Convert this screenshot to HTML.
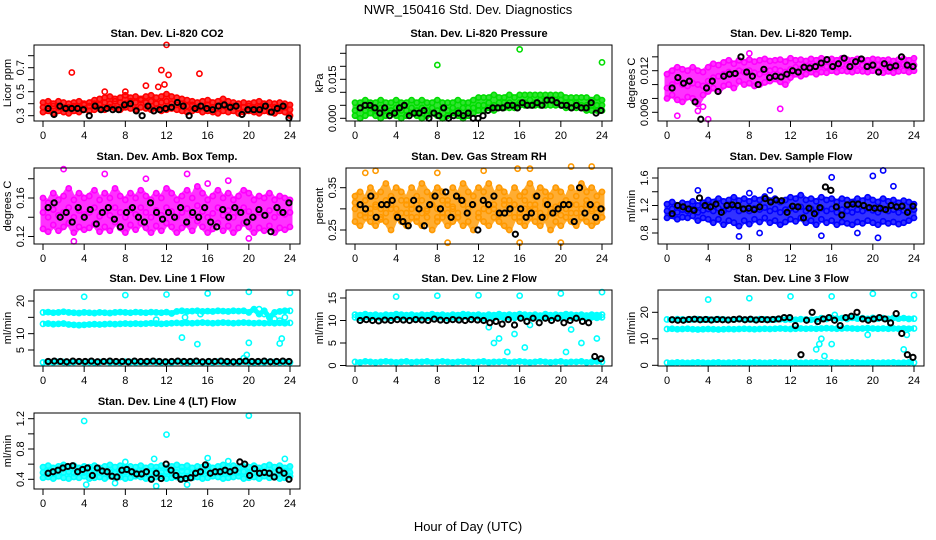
<!DOCTYPE html>
<html><head><meta charset="utf-8"><style>
html,body{margin:0;padding:0;background:#fff;}
svg{display:block;font-family:"Liberation Sans",sans-serif;}
</style></head><body>
<svg id="chart" width="936" height="540" viewBox="0 0 936 540">
<text x="468" y="14" text-anchor="middle" font-size="13">NWR_150416 Std. Dev. Diagnostics</text>
<text x="468" y="531" text-anchor="middle" font-size="13">Hour of Day (UTC)</text>
</svg>
<script>
// ---------- DATA ----------
const co2Upper=[0.41,0.42,0.40,0.42,0.41,0.40,0.41,0.42,0.40,0.41,0.43,0.44,0.45,0.46,0.44,0.45,0.47,0.45,0.46,0.44,0.46,0.47,0.45,0.46,0.48,0.46,0.45,0.44,0.43,0.42,0.41,0.42,0.43,0.41,0.42,0.44,0.42,0.41,0.40,0.41,0.40,0.41,0.42,0.40,0.41,0.40,0.41,0.40,0.39];
const co2Mid=[0.37,0.36,0.38,0.37,0.36,0.37,0.38,0.37,0.39,0.38,0.40,0.39,0.41,0.40,0.42,0.41,0.40,0.42,0.41,0.43,0.41,0.42,0.40,0.41,0.42,0.40,0.39,0.40,0.38,0.39,0.37,0.38,0.39,0.37,0.38,0.39,0.37,0.38,0.36,0.37,0.38,0.36,0.37,0.38,0.36,0.37,0.36,0.37,0.35];
const co2Lower=[0.33,0.34,0.32,0.34,0.33,0.32,0.34,0.33,0.35,0.34,0.35,0.36,0.35,0.37,0.36,0.35,0.37,0.36,0.35,0.37,0.36,0.35,0.36,0.34,0.35,0.36,0.35,0.34,0.33,0.34,0.35,0.33,0.34,0.33,0.32,0.34,0.33,0.34,0.32,0.33,0.34,0.33,0.32,0.34,0.33,0.32,0.34,0.33,0.30];
const co2Black=[0.36,0.31,0.38,0.36,0.36,0.36,0.35,0.30,0.38,0.35,0.36,0.35,0.35,0.39,0.40,0.34,0.30,0.38,0.34,0.35,0.36,0.37,0.41,0.38,0.30,0.36,0.38,0.36,0.35,0.38,0.39,0.37,0.38,0.31,0.35,0.35,0.35,0.38,0.33,0.36,0.38,0.28];
const co2Outliers=[[2.8,0.66],[10,0.55],[11.2,0.54],[11.5,0.68],[11.8,0.56],[12,0.89],[12.2,0.64],[15.2,0.65],[8,0.5],[6,0.5]];

const presUpper=[0.006,0.006,0.007,0.006,0.006,0.007,0.006,0.006,0.007,0.006,0.006,0.007,0.006,0.007,0.006,0.006,0.007,0.006,0.006,0.006,0.007,0.006,0.006,0.007,0.008,0.008,0.008,0.009,0.008,0.008,0.009,0.008,0.009,0.009,0.009,0.009,0.009,0.009,0.009,0.009,0.009,0.008,0.008,0.008,0.008,0.008,0.007,0.008,0.007];
const presMid=[0.003,0.004,0.003,0.004,0.003,0.004,0.003,0.003,0.004,0.003,0.003,0.004,0.003,0.004,0.003,0.004,0.003,0.004,0.003,0.004,0.003,0.004,0.004,0.004,0.005,0.005,0.006,0.005,0.006,0.006,0.006,0.005,0.006,0.006,0.007,0.006,0.007,0.007,0.007,0.007,0.007,0.006,0.006,0.006,0.005,0.005,0.005,0.005,0.005];
const presLower=[0.001,0.000,0.001,0.002,0.001,0.000,0.001,0.002,0.001,0.000,0.001,0.002,0.001,0.000,0.001,0.002,0.001,0.000,0.001,0.002,0.001,0.000,0.001,0.002,0.003,0.003,0.004,0.003,0.004,0.004,0.004,0.004,0.005,0.005,0.005,0.005,0.005,0.005,0.005,0.005,0.005,0.004,0.004,0.004,0.004,0.003,0.003,0.003,0.003];
const presBlack=[0.004,0.005,0.005,0.004,0.002,0.004,0.001,0.002,0.004,0.005,0.001,0.002,0.002,0.003,0.000,0.002,0.001,0.004,0.000,0.001,0.002,0.001,0.002,0.000,0.000,0.001,0.003,0.004,0.004,0.004,0.005,0.005,0.004,0.006,0.005,0.005,0.006,0.005,0.007,0.007,0.006,0.005,0.005,0.004,0.005,0.004,0.004,0.006,0.002,0.003];
const presOutliers=[[8,0.0205],[16,0.0265],[24,0.0215]];

const tempUpper=[0.0115,0.0120,0.0125,0.0122,0.0120,0.0125,0.0120,0.0118,0.0125,0.0130,0.0128,0.0132,0.0135,0.0130,0.0135,0.0132,0.0136,0.0133,0.0135,0.0137,0.0134,0.0135,0.0136,0.0133,0.0138,0.0135,0.0136,0.0134,0.0137,0.0135,0.0138,0.0136,0.0137,0.0135,0.0138,0.0136,0.0135,0.0137,0.0136,0.0135,0.0137,0.0136,0.0135,0.0136,0.0134,0.0136,0.0137,0.0135,0.0138];
const tempMid=[0.0095,0.0100,0.0105,0.0100,0.0098,0.0102,0.0100,0.0098,0.0105,0.0110,0.0112,0.0115,0.0118,0.0115,0.0120,0.0118,0.0120,0.0117,0.0115,0.0118,0.0120,0.0122,0.0120,0.0118,0.0122,0.0125,0.0123,0.0125,0.0127,0.0125,0.0128,0.0126,0.0128,0.0127,0.0129,0.0128,0.0127,0.0129,0.0128,0.0127,0.0129,0.0128,0.0127,0.0128,0.0126,0.0128,0.0129,0.0127,0.0128];
const tempLower=[0.0080,0.0085,0.0078,0.0075,0.0082,0.0080,0.0072,0.0085,0.0090,0.0095,0.0090,0.0098,0.0100,0.0095,0.0105,0.0100,0.0102,0.0098,0.0100,0.0103,0.0105,0.0108,0.0104,0.0100,0.0110,0.0115,0.0112,0.0115,0.0118,0.0115,0.0118,0.0117,0.0120,0.0118,0.0120,0.0119,0.0118,0.0120,0.0119,0.0118,0.0120,0.0119,0.0117,0.0119,0.0117,0.0119,0.0120,0.0118,0.0120];
const tempBlack=[0.0095,0.0110,0.0102,0.0105,0.0075,0.0050,0.0095,0.0105,0.0090,0.0112,0.0115,0.0116,0.0140,0.0118,0.0112,0.0100,0.0122,0.0110,0.0112,0.0111,0.0115,0.0120,0.0118,0.0125,0.0124,0.0126,0.0131,0.0136,0.0126,0.0130,0.0138,0.0126,0.0133,0.0137,0.0126,0.0128,0.0118,0.0130,0.0125,0.0127,0.0140,0.0128,0.0126];
const tempOutliers=[[1,0.0055],[3.5,0.0068],[4,0.0050],[8,0.0145],[11,0.0065],[3,0.0062]];

const ambUpper=[0.160,0.155,0.165,0.158,0.162,0.170,0.158,0.165,0.160,0.162,0.168,0.158,0.165,0.160,0.170,0.162,0.158,0.165,0.160,0.168,0.162,0.158,0.165,0.160,0.170,0.165,0.158,0.162,0.168,0.160,0.172,0.165,0.158,0.162,0.168,0.160,0.165,0.158,0.162,0.168,0.165,0.158,0.162,0.160,0.165,0.158,0.162,0.160,0.158];
const ambMid=[0.145,0.140,0.148,0.142,0.145,0.150,0.140,0.147,0.143,0.145,0.150,0.141,0.146,0.142,0.150,0.145,0.140,0.148,0.143,0.150,0.145,0.140,0.147,0.142,0.150,0.146,0.140,0.145,0.149,0.142,0.152,0.146,0.140,0.144,0.150,0.142,0.147,0.140,0.145,0.150,0.146,0.140,0.145,0.142,0.147,0.140,0.145,0.143,0.145];
const ambLower=[0.128,0.125,0.132,0.126,0.130,0.134,0.124,0.130,0.127,0.129,0.133,0.125,0.130,0.126,0.135,0.129,0.124,0.132,0.127,0.134,0.129,0.124,0.131,0.126,0.134,0.130,0.124,0.129,0.133,0.126,0.136,0.130,0.124,0.128,0.134,0.126,0.131,0.124,0.129,0.134,0.130,0.124,0.129,0.126,0.131,0.124,0.129,0.127,0.130];
const ambBlack=[0.150,0.155,0.140,0.145,0.135,0.150,0.140,0.148,0.133,0.145,0.150,0.138,0.130,0.145,0.150,0.140,0.135,0.155,0.145,0.138,0.145,0.140,0.150,0.135,0.145,0.140,0.150,0.135,0.130,0.148,0.140,0.150,0.145,0.135,0.140,0.148,0.142,0.125,0.150,0.145,0.155];
const ambOutliers=[[2,0.19],[6,0.185],[10,0.18],[14,0.185],[16,0.175],[3,0.115],[20,0.118],[18,0.178]];

const rhA=[0.33,0.34,0.32,0.35,0.33,0.34,0.36,0.33,0.35,0.34,0.32,0.35,0.33,0.36,0.34,0.33,0.35,0.34,0.32,0.35,0.33,0.36,0.34,0.33,0.35,0.34,0.36,0.33,0.35,0.34,0.32,0.35,0.33,0.34,0.36,0.33,0.35,0.34,0.33,0.35,0.34,0.32,0.35,0.33,0.36,0.34,0.35,0.33,0.34];
const rhB=[0.30,0.31,0.29,0.30,0.31,0.30,0.29,0.31,0.30,0.29,0.31,0.30,0.31,0.29,0.30,0.31,0.30,0.29,0.31,0.30,0.29,0.31,0.30,0.31,0.29,0.30,0.31,0.30,0.29,0.31,0.30,0.31,0.29,0.30,0.31,0.30,0.29,0.31,0.30,0.29,0.31,0.30,0.31,0.29,0.30,0.31,0.30,0.29,0.30];
const rhC=[0.27,0.26,0.28,0.27,0.26,0.28,0.27,0.25,0.28,0.27,0.26,0.28,0.27,0.26,0.28,0.25,0.27,0.28,0.26,0.27,0.28,0.26,0.27,0.25,0.28,0.27,0.26,0.28,0.27,0.26,0.25,0.28,0.27,0.26,0.28,0.27,0.26,0.28,0.25,0.27,0.26,0.28,0.27,0.26,0.28,0.27,0.26,0.27,0.28];
const rhD=[0.315,0.285,0.32,0.29,0.305,0.275,0.32,0.30,0.285,0.32,0.29,0.31,0.28,0.32,0.295,0.31,0.28,0.32,0.29,0.305,0.28,0.32,0.29,0.31,0.28,0.32,0.295,0.31,0.285,0.32,0.29,0.31,0.28,0.32,0.295,0.31,0.28,0.32,0.29,0.305,0.285,0.32,0.29,0.31,0.28,0.32,0.295,0.31,0.28];
const rhBlack=[0.31,0.30,0.33,0.28,0.31,0.31,0.32,0.28,0.27,0.26,0.32,0.30,0.26,0.31,0.33,0.30,0.34,0.28,0.33,0.32,0.29,0.31,0.25,0.32,0.31,0.33,0.29,0.29,0.30,0.24,0.30,0.28,0.29,0.33,0.28,0.31,0.29,0.30,0.31,0.31,0.27,0.35,0.29,0.31,0.28,0.30];
const rhOutliers=[[1,0.385],[2,0.39],[8,0.385],[12.5,0.39],[15.8,0.395],[17,0.395],[21,0.40],[23,0.40],[9,0.22],[16,0.22],[20,0.22]];

const flowA=[1.22,1.25,1.20,1.24,1.22,1.26,1.20,1.24,1.28,1.25,1.30,1.26,1.28,1.32,1.27,1.30,1.26,1.30,1.28,1.33,1.27,1.30,1.25,1.28,1.32,1.30,1.35,1.28,1.30,1.26,1.32,1.28,1.30,1.25,1.30,1.28,1.25,1.30,1.27,1.32,1.28,1.25,1.30,1.26,1.28,1.24,1.27,1.25,1.22];
const flowB=[1.12,1.15,1.10,1.14,1.12,1.15,1.10,1.13,1.15,1.12,1.16,1.12,1.15,1.18,1.12,1.15,1.12,1.16,1.14,1.17,1.12,1.15,1.10,1.14,1.16,1.14,1.18,1.12,1.15,1.10,1.16,1.12,1.15,1.10,1.14,1.12,1.10,1.14,1.12,1.16,1.13,1.10,1.15,1.12,1.14,1.10,1.13,1.12,1.14];
const flowC=[1.02,1.05,1.00,1.03,1.02,1.05,0.98,1.02,1.00,0.95,1.00,0.92,0.98,0.95,0.90,0.98,0.93,1.00,0.96,1.02,0.95,0.98,0.92,0.96,1.00,0.97,1.02,0.95,0.98,0.92,1.00,0.95,0.98,0.92,0.96,0.94,0.92,0.96,0.94,0.98,0.95,0.92,0.97,0.94,0.96,0.93,0.95,0.98,1.02];
const flowBlack=[1.08,1.20,1.18,1.15,1.13,1.31,1.20,1.18,1.22,1.10,1.20,1.21,1.20,1.15,1.16,1.14,1.18,1.30,1.25,1.28,1.27,1.10,1.19,1.18,1.02,1.16,1.08,1.17,1.47,1.42,1.18,1.06,1.21,1.22,1.22,1.20,1.17,1.16,1.16,1.14,1.20,1.18,1.19,1.10,1.19];
const flowOutliers=[[16,1.61],[20,1.63],[21,1.71],[22,1.48],[3,1.42],[8,1.38],[10,1.42],[15,0.76],[20.5,0.73],[7,0.75],[9,0.8],[18.5,0.8]];

const l1A=[16.5,16.6,16.4,16.5,16.7,16.5,16.4,16.3,16.5,16.4,16.3,16.5,16.4,16.3,16.5,16.6,16.5,16.4,16.6,16.5,16.4,16.6,16.5,16.4,16.6,16.2,16.8,17.0,16.8,16.9,17.0,16.8,16.9,16.8,17.0,16.9,16.8,17.0,16.9,17.0,16.5,17.5,16.0,17.0,15.0,16.5,16.8,17.0,17.0];
const l1B=[13.0,13.1,12.9,13.0,13.1,12.8,12.7,12.6,12.7,12.8,12.9,12.8,12.9,13.0,12.9,13.0,13.1,13.0,13.1,13.0,13.1,13.2,13.1,13.0,13.1,13.2,13.3,13.2,13.3,13.2,13.3,13.4,13.3,13.2,13.3,13.4,13.3,13.2,13.3,13.4,13.3,13.2,13.3,13.2,13.3,13.2,13.3,13.2,13.3];
const l1C=[1.2,1.3,1.2,1.4,1.3,1.2,1.3,1.4,1.2,1.3,1.2,1.3,1.4,1.2,1.3,1.2,1.4,1.3,1.2,1.3,1.2,1.4,1.3,1.2,1.3,1.2,1.4,1.3,1.2,1.3,1.4,1.2,1.3,1.2,1.4,1.3,1.2,1.3,1.2,1.4,1.3,1.2,1.3,1.2,1.4,1.3,1.2,1.3,1.2];
const l1Black=[1.5,1.6,1.5,1.4,1.6,1.5,1.5,1.6,1.4,1.5,1.6,1.5,1.5,1.4,1.6,1.5,1.5,1.6,1.5,1.4,1.5,1.6,1.5,1.5,1.6,1.4,1.5,1.5,1.6,1.5,1.4,1.5,1.6,1.5,1.5,1.6,1.4,1.5,1.6,1.5];
const l1Outliers=[[4,21.3],[8,21.8],[12,22.0],[16,22.3],[20,22.8],[24,22.5],[13.5,8.8],[15,6.8],[20,7.2],[19.8,3.5],[23,7],[23.2,8.5],[19.5,2.5],[21,17.5],[21.5,16],[22,15],[22.5,14.5],[23,14],[23.5,15],[11,14.3],[13.8,15],[15.3,16]];

const l2A=[11.3,11.2,11.4,11.2,11.3,11.1,11.3,11.2,11.4,11.3,11.2,11.3,11.1,11.3,11.2,11.4,11.2,11.3,11.1,11.3,11.2,11.4,11.3,11.2,11.3,11.1,11.3,11.2,11.4,11.2,11.3,11.2,11.4,11.3,11.2,11.3,11.1,11.4,11.2,11.3,11.2,11.4,11.3,11.2,11.3,11.1,11.3,11.2,11.3];
const l2B=[10.7,10.6,10.8,10.6,10.7,10.5,10.7,10.6,10.8,10.7,10.6,10.7,10.5,10.7,10.6,10.8,10.6,10.7,10.5,10.7,10.6,10.8,10.7,10.6,10.7,10.5,10.7,10.6,10.8,10.6,10.7,10.6,10.8,10.7,10.6,10.7,10.5,10.8,10.6,10.7,10.6,10.8,10.7,10.6,10.7,10.5,10.7,10.6,10.7];
const l2C=[0.8,0.7,0.9,0.8,0.7,0.8,0.9,0.8,0.7,0.8,0.9,0.7,0.8,0.8,0.9,0.7,0.8,0.9,0.8,0.7,0.8,0.9,0.8,0.7,0.8,0.9,0.7,0.8,0.8,0.9,0.7,0.8,0.9,0.8,0.7,0.8,0.9,0.8,0.7,0.8,0.9,0.7,0.8,0.8,0.9,0.7,0.8,0.9,0.8];
const l2Black=[10.0,10.2,10.0,9.9,10.1,10.0,10.2,10.1,10.0,10.2,10.1,10.0,10.3,10.1,10.0,10.2,10.1,10.0,10.2,10.1,10.0,9.5,9.8,9.2,10.2,9.0,10.5,9.8,10.5,9.5,10.5,10.0,10.5,9.5,10.0,10.5,9.8,9.5,2.0,1.5];
const l2Outliers=[[4,15.3],[8,15.5],[12,15.6],[16,15.5],[20,16],[24,16.3],[13.5,5],[14,6],[14.8,3],[16.5,4],[15.5,7],[20.5,3],[22,5],[21,8],[23.5,6],[13,8.5],[17,9]];

const l3A=[17.3,17.2,17.4,17.3,17.2,17.3,17.4,17.2,17.3,17.2,17.4,17.3,17.2,17.3,17.4,17.2,17.3,17.2,17.4,17.3,17.2,17.3,17.4,17.2,17.3,17.2,17.4,17.3,17.2,17.3,17.8,17.5,17.9,17.6,17.8,17.5,17.9,17.6,17.8,17.5,17.9,17.6,17.8,17.5,17.9,17.6,17.8,17.5,17.6];
const l3B=[13.7,13.8,13.6,13.7,13.8,13.6,13.5,13.6,13.7,13.6,13.5,13.6,13.7,13.6,13.7,13.8,13.7,13.6,13.7,13.8,13.7,13.8,13.9,13.8,13.7,13.8,13.9,13.8,13.9,13.8,13.9,14.0,13.9,13.8,13.9,14.0,13.9,13.8,13.9,14.0,13.9,13.8,13.9,13.8,13.9,13.8,13.9,13.8,13.9];
const l3C=[1.0,0.9,1.1,1.0,0.9,1.0,1.1,1.0,0.9,1.0,1.1,0.9,1.0,1.0,1.1,0.9,1.0,1.1,1.0,0.9,1.0,1.1,1.0,0.9,1.0,1.1,0.9,1.0,1.0,1.1,0.9,1.0,1.1,1.0,0.9,1.0,1.1,1.0,0.9,1.0,1.1,0.9,1.0,1.0,1.1,0.9,1.0,1.1,1.0];
const l3Black=[17.2,17.0,17.0,17.3,17.4,17.2,17.3,17.1,17.3,17.2,17.1,17.3,17.5,17.2,17.4,17.1,17.3,17.2,17.3,17.5,18.0,18.0,15.0,4.0,17.0,20.0,16.5,17.5,18.0,17.0,15.0,18.0,18.5,20.0,17.5,17.0,17.5,18.0,17.5,16.0,19.5,12.0,4.0,3.0];
const l3Outliers=[[4,24.8],[8,25.3],[12,26],[16,26],[20,27],[24,26.5],[14.5,6],[14.8,8],[15,10],[15.3,3.5],[16,8],[19.5,11.5],[23,6],[23.3,11.5],[16.3,19]];

const l4A=[0.56,0.58,0.55,0.57,0.59,0.56,0.58,0.55,0.57,0.56,0.58,0.55,0.57,0.59,0.56,0.58,0.55,0.57,0.56,0.58,0.55,0.57,0.56,0.58,0.55,0.57,0.59,0.56,0.58,0.55,0.57,0.56,0.58,0.55,0.57,0.59,0.56,0.58,0.55,0.57,0.56,0.58,0.55,0.57,0.59,0.56,0.58,0.55,0.57];
const l4B=[0.49,0.50,0.48,0.51,0.49,0.50,0.48,0.51,0.49,0.50,0.48,0.49,0.51,0.50,0.48,0.49,0.50,0.51,0.48,0.49,0.50,0.48,0.51,0.49,0.50,0.48,0.49,0.51,0.50,0.48,0.49,0.50,0.51,0.48,0.49,0.50,0.48,0.51,0.49,0.50,0.48,0.49,0.51,0.50,0.48,0.49,0.50,0.51,0.49];
const l4C=[0.42,0.43,0.41,0.44,0.42,0.41,0.43,0.42,0.44,0.41,0.42,0.43,0.41,0.44,0.42,0.43,0.41,0.42,0.44,0.43,0.41,0.42,0.43,0.44,0.41,0.42,0.43,0.41,0.44,0.42,0.43,0.41,0.42,0.44,0.43,0.41,0.42,0.43,0.44,0.41,0.42,0.43,0.41,0.44,0.42,0.43,0.41,0.42,0.44];
const l4Black=[0.48,0.50,0.52,0.55,0.57,0.58,0.50,0.53,0.55,0.45,0.55,0.51,0.50,0.44,0.43,0.52,0.53,0.50,0.47,0.47,0.50,0.40,0.48,0.41,0.60,0.52,0.45,0.40,0.41,0.42,0.48,0.50,0.59,0.48,0.50,0.50,0.52,0.50,0.52,0.63,0.60,0.45,0.54,0.48,0.49,0.48,0.43,0.52,0.48,0.40];
const l4Outliers=[[4,1.17],[12,0.99],[20,1.24],[10.8,0.67],[16,0.68],[23.5,0.67],[4.2,0.33],[11,0.31],[14,0.33],[7,0.35],[8,0.63],[18,0.64]];

const xTicks=[0,4,8,12,16,20,24];

// ---------- LAYOUT ----------
const SVGNS="http://www.w3.org/2000/svg";
const svg=document.getElementById('chart');
const colX=[34,346,658], rowY=[45,168,290,413], BW=266, BH=76;
const panels=[
 {name:'co2',title:'Stan. Dev. Li-820 CO2',ylab:'Licor ppm',c:0,r:0,v0:0.3,v1:0.7,p0:115.7,p1:67.7,ticks:[0.3,0.4,0.5,0.6,0.7,0.8],labels:[0.3,0.5,0.7],dec:1,color:'#ff0000',bands:[co2Upper,co2Mid,co2Lower],env:[0,2],black:co2Black,out:co2Outliers},
 {name:'pressure',title:'Stan. Dev. Li-820 Pressure',ylab:'kPa',c:1,r:0,v0:0,v1:0.015,p0:118.3,p1:79.3,ticks:[0,0.005,0.01,0.015,0.02,0.025],labels:[0,0.015],dec:3,color:'#00dd00',bands:[presUpper,presMid,presLower],env:[0,2],black:presBlack,out:presOutliers},
 {name:'temp',title:'Stan. Dev. Li-820 Temp.',ylab:'degrees C',c:2,r:0,v0:0.006,v1:0.012,p0:112.3,p1:70.7,ticks:[0.006,0.008,0.01,0.012,0.014],labels:[0.006,0.012],dec:3,color:'#ff00ff',bands:[tempUpper,tempMid,tempLower],env:[0,2],black:tempBlack,out:tempOutliers},
 {name:'amb-box-temp',title:'Stan. Dev. Amb. Box Temp.',ylab:'degrees C',c:0,r:1,v0:0.12,v1:0.16,p0:236.5,p1:198,ticks:[0.12,0.14,0.16,0.18],labels:[0.12,0.16],dec:2,color:'#ff00ff',bands:[ambUpper,ambMid,ambLower],env:[0,2],black:ambBlack,out:ambOutliers},
 {name:'gas-stream-rh',title:'Stan. Dev. Gas Stream RH',ylab:'percent',c:1,r:1,v0:0.25,v1:0.35,p0:230,p1:187.7,ticks:[0.25,0.3,0.35],labels:[0.25,0.35],dec:2,color:'#ff9900',bands:[rhA,rhD,rhB,rhC],env:[0,3],black:rhBlack,out:rhOutliers},
 {name:'sample-flow',title:'Stan. Dev. Sample Flow',ylab:'ml/min',c:2,r:1,v0:0.8,v1:1.6,p0:233,p1:178,ticks:[0.8,1.0,1.2,1.4,1.6],labels:[0.8,1.2,1.6],dec:1,color:'#0000ff',bands:[flowA,flowB,flowC],env:[0,2],black:flowBlack,out:flowOutliers},
 {name:'line1-flow',title:'Stan. Dev. Line 1 Flow',ylab:'ml/min',c:0,r:2,v0:5,v1:20,p0:350,p1:301,ticks:[5,10,15,20],labels:[5,10,20],dec:0,color:'#00ffff',bands:[l1A,l1B,l1C],env:null,black:l1Black,out:l1Outliers},
 {name:'line2-flow',title:'Stan. Dev. Line 2 Flow',ylab:'ml/min',c:1,r:2,v0:0,v1:15,p0:365.5,p1:298,ticks:[0,5,10,15],labels:[0,5,10,15],dec:0,color:'#00ffff',bands:[l2A,l2B,l2C],env:null,black:l2Black,out:l2Outliers},
 {name:'line3-flow',title:'Stan. Dev. Line 3 Flow',ylab:'ml/min',c:2,r:2,v0:0,v1:20,p0:365.3,p1:312.3,ticks:[0,10,20],labels:[0,10,20],dec:0,color:'#00ffff',bands:[l3A,l3B,l3C],env:null,black:l3Black,out:l3Outliers},
 {name:'line4-flow',title:'Stan. Dev. Line 4 (LT) Flow',ylab:'ml/min',c:0,r:3,v0:0.4,v1:1.2,p0:479.3,p1:418.7,ticks:[0.4,0.6,0.8,1.0,1.2],labels:[0.4,0.8,1.2],dec:1,color:'#00ffff',bands:[l4A,l4B,l4C],env:[0,2],black:l4Black,out:l4Outliers}
];

function mk(tag,attrs,parent){const e=document.createElementNS(SVGNS,tag);for(const k in attrs)e.setAttribute(k,attrs[k]);parent.appendChild(e);return e;}

panels.forEach(P=>{
  const g=mk('g',{},svg);
  
  
  const L=colX[P.c], T=rowY[P.r];
  const x0=L+9, x1=L+256;
  const xs=h=>x0+(x1-x0)*h/24;
  const ys=v=>P.p0+(v-P.v0)*(P.p1-P.p0)/(P.v1-P.v0);
  const t=mk('text',{x:L+BW/2,y:T-8,'text-anchor':'middle','font-size':11,'font-weight':'bold'},g);
  t.textContent=P.title;
  
  
  const pts=mk('g',{fill:'none','stroke-width':1.6},g);
  
  
  if(P.env){
    const up=P.bands[P.env[0]], lo=P.bands[P.env[1]];
    let d='';
    up.forEach((v,i)=>{d+=(i?'L':'M')+xs(i*24/(up.length-1)).toFixed(1)+','+ys(v).toFixed(1);});
    for(let i=lo.length-1;i>=0;i--){d+='L'+xs(i*24/(lo.length-1)).toFixed(1)+','+ys(lo[i]).toFixed(1);}
    d+='Z';
    const cl=mk('path',{d:d,fill:P.color,stroke:P.color,'stroke-width':5,'stroke-linejoin':'round',opacity:0.8},pts);
    
    
  } else {
    P.bands.forEach(arr=>{
      let d='';
      arr.forEach((v,i)=>{d+=(i?'L':'M')+xs(i*24/(arr.length-1)).toFixed(1)+','+ys(v).toFixed(1);});
      const st=mk('path',{d:d,fill:'none',stroke:P.color,'stroke-width':5,'stroke-linejoin':'round'},pts);
      
      
    });
  }
  P.bands.forEach(arr=>{arr.forEach((v,i)=>{
    const c=mk('circle',{cx:xs(i*24/(arr.length-1)),cy:ys(v),r:2.6,stroke:P.color},pts);
    
    
  });});
  P.out.forEach(o=>{
    const c=mk('circle',{cx:xs(o[0]),cy:ys(o[1]),r:2.6,stroke:P.color},pts);
    
    
  });
  P.black.forEach((v,i)=>{
    const h=0.5+i*23.4/(P.black.length-1);
    const c=mk('circle',{cx:xs(h),cy:ys(v),r:2.6,stroke:'#000','stroke-width':2},pts);
    
    
  });
  const b=mk('rect',{x:L,y:T,width:BW,height:BH,fill:'none',stroke:'#000','stroke-width':1},g);
  
  
  const xa=mk('g',{},g);
  
  
  mk('line',{x1:xs(0),x2:xs(24),y1:T+BH,y2:T+BH,stroke:'#000'},xa);
  xTicks.forEach(v=>{
    mk('line',{x1:xs(v),x2:xs(v),y1:T+BH,y2:T+BH+6,stroke:'#000'},xa);
    const tl=mk('text',{x:xs(v),y:T+BH+18,'text-anchor':'middle','font-size':11},xa);
    tl.textContent=v;
    
    
  });
  const ya=mk('g',{},g);
  
  
  P.ticks.forEach(v=>{
    const y=ys(v); if(y<T-1||y>T+BH+1) return;
    mk('line',{x1:L-6,x2:L,y1:y,y2:y,stroke:'#000'},ya);
  });
  P.labels.forEach(v=>{
    const y=ys(v);
    const tl=mk('text',{x:0,y:0,'text-anchor':'middle','font-size':11,transform:`translate(${L-10},${y}) rotate(-90)`},ya);
    tl.textContent=v.toFixed(P.dec);
    
    
  });
  const yl=mk('text',{x:0,y:0,'text-anchor':'middle','font-size':11,transform:`translate(${L-23},${T+BH/2}) rotate(-90)`},ya);
  yl.textContent=P.ylab;
  
  
});
</script>
</body></html>
